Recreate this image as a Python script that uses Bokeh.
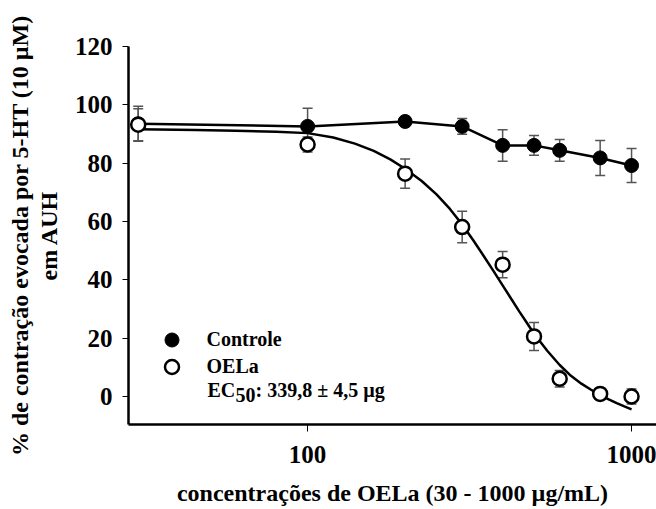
from bokeh.plotting import figure
from bokeh.models import (Range1d, FixedTicker, NumeralTickFormatter, Whisker, TeeHead,
                          ColumnDataSource, Legend, LegendItem, Label, LinearAxis)
from bokeh.embed import file_html
from bokeh.resources import INLINE

# ---- data ----
conc = [30, 100, 200, 300, 400, 500, 600, 800, 1000]
controle = [93.5, 92.6, 94.3, 92.6, 86.1, 86.1, 84.4, 81.8, 79.2]
controle_err = [6.0, 6.2, 1.5, 2.7, 5.4, 3.4, 3.7, 6.0, 5.8]
oela = [93.2, 86.4, 76.4, 58.1, 45.2, 20.6, 6.1, 0.9, 0.0]
oela_err = [5.5, 2.6, 5.0, 5.4, 4.5, 4.8, 2.8, 2.0, 2.6]

# fitted curve for OELa
fit_x = [30, 45, 60, 80, 100, 120, 140, 160, 180, 200, 225, 250, 275, 300, 325, 350, 375, 400,
         425, 450, 475, 500, 550, 600, 650, 700, 750, 800, 850, 900, 950, 1000]
fit_y = [91.6, 91.4, 91.1, 90.8, 90.3, 88.8, 86.7, 84.2, 81.3, 78.1, 73.9, 69.3, 64.3, 59.0, 53.5,
         48.1, 43.0, 38.1, 33.5, 29.2, 25.3, 21.5, 15.6, 10.8, 7.1, 4.4, 2.3, 0.5, -1.0, -2.3, -3.4, -4.4]

y_ticks = [0, 20, 40, 60, 80, 100, 120]
x_ticks = [100, 1000]

y_title_1 = "% de contração evocada por 5-HT (10 \u00b5M)"
y_title_2 = "em AUH"
x_title = "concentrações de OELa (30 - 1000 \u00b5g/mL)"

FONT = "Liberation Serif"

p = figure(width=656, height=509, x_axis_type="log",
           x_range=Range1d(28.0, 1194), y_range=Range1d(-9.6, 120),
           output_backend="svg", toolbar_location=None,
           min_border_left=128, min_border_right=0, min_border_top=46, min_border_bottom=85)
p.outline_line_color = None
p.xgrid.visible = False
p.ygrid.visible = False
p.background_fill_color = "white"
p.border_fill_color = "white"

# error bars
src_c = ColumnDataSource(dict(base=conc, upper=[v + e for v, e in zip(controle, controle_err)],
                              lower=[v - e for v, e in zip(controle, controle_err)]))
src_o = ColumnDataSource(dict(base=conc, upper=[v + e for v, e in zip(oela, oela_err)],
                              lower=[v - e for v, e in zip(oela, oela_err)]))
EB = "#555555"
for src in (src_c, src_o):
    w = Whisker(source=src, base="base", upper="upper", lower="lower", dimension="height",
                line_color=EB, line_width=1.5, level="underlay",
                upper_head=TeeHead(size=10, line_color=EB, line_width=1.5),
                lower_head=TeeHead(size=10, line_color=EB, line_width=1.5))
    p.add_layout(w)

p.line(conc, controle, line_color="black", line_width=2.5)
p.line(fit_x, fit_y, line_color="black", line_width=2.5)

r_c = p.scatter(conc, controle, size=14, marker="circle", fill_color="black", line_color="black", line_width=1)
r_o = p.scatter(conc, oela, size=14, marker="circle", fill_color="white", line_color="black", line_width=2.5)

# legends (one per row so marker size matches)
def make_legend(label, rend, loc):
    lg = Legend(items=[LegendItem(label=label, renderers=[rend])], location=loc,
                glyph_width=35, glyph_height=35, label_standoff=18, padding=0, margin=0,
                border_line_color=None, background_fill_alpha=0,
                label_text_font=FONT, label_text_font_style="bold", label_text_font_size="20px",
                label_text_color="black")
    p.add_layout(lg, "center")

make_legend("Controle", r_c, (25.5, 67.5))
make_legend("OELa", r_o, (25.5, 40.5))

lab_kw = dict(x_units="screen", y_units="screen", text_font=FONT, text_font_style="bold",
              text_font_size="20px", text_color="black", text_baseline="alphabetic")
p.add_layout(Label(x=79, y=35, text="EC", **lab_kw))
p.add_layout(Label(x=107, y=30, text="50", **lab_kw))
p.add_layout(Label(x=127, y=35, text=": 339,8 \u00b1 4,5 \u00b5g", **lab_kw))

# axes
for ax in (p.xaxis[0], p.yaxis[0]):
    ax.axis_line_color = "black"
    ax.axis_line_width = 2.5
    ax.major_tick_line_color = "black"
    ax.major_tick_line_width = 1
    ax.major_tick_in = 0
    ax.minor_tick_line_color = None
    ax.major_label_text_font = FONT
    ax.major_label_text_font_style = "bold"
    ax.major_label_text_font_size = "25px"
    ax.major_label_text_color = "black"
    ax.axis_label_text_font = FONT
    ax.axis_label_text_font_style = "bold"
    ax.axis_label_text_font_size = "24px"
    ax.axis_label_text_color = "black"

p.yaxis.ticker = FixedTicker(ticks=y_ticks)
p.yaxis.major_tick_out = 6
p.yaxis.major_label_standoff = 10
p.yaxis.axis_label = y_title_2
p.yaxis.axis_label_standoff = 10

# outer left axis carrying only the first line of the y title
outer = LinearAxis(ticker=FixedTicker(ticks=[]), axis_label=y_title_1,
                   axis_line_color=None, major_tick_line_color=None, minor_tick_line_color=None,
                   major_label_text_font_size="0px", major_label_standoff=0, axis_label_standoff=0,
                   major_tick_out=0, major_tick_in=0,
                   axis_label_text_font=FONT, axis_label_text_font_style="bold",
                   axis_label_text_font_size="24px", axis_label_text_color="black")
p.add_layout(outer, "left")

p.xaxis.ticker = FixedTicker(ticks=x_ticks)
p.xaxis.formatter = NumeralTickFormatter(format="0")
p.xaxis.major_tick_out = 7
p.xaxis.major_label_standoff = 14
p.xaxis.axis_label = x_title
p.xaxis.axis_label_standoff = 14

open("out.html", "w").write(file_html(p, INLINE))
